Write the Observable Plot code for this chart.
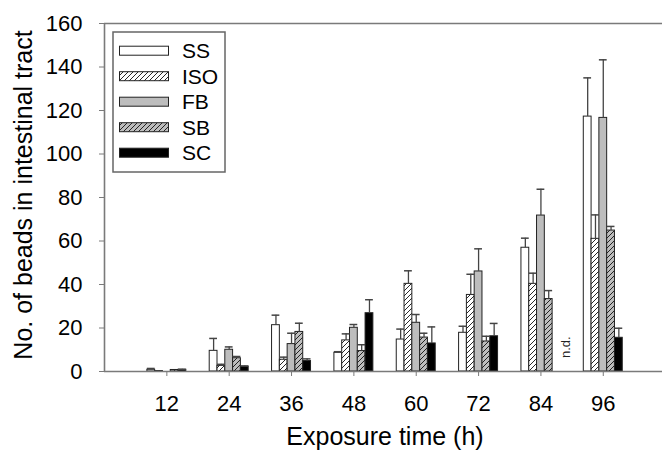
<!DOCTYPE html>
<html>
<head>
<meta charset="utf-8">
<script src="https://cdn.jsdelivr.net/npm/d3@7"></script>
<script src="https://cdn.jsdelivr.net/npm/@observablehq/plot@0.6"></script>
<style>
  html, body { margin: 0; padding: 0; background: #fff; }
  #chart { width: 663px; height: 451px; }
</style>
</head>
<body>
<div id="chart"></div>
<script>
// ---- data ----
const times = [12, 24, 36, 48, 60, 72, 84, 96];
const seriesNames = ["SS", "ISO", "FB", "SB", "SC"];
const SS    = [0.8, 9.5, 21.3, 8.6, 14.7, 17.8, 56.9, 117.2];
const SSerr = [0.6, 5.7, 4.6, 0.5, 4.8, 3.0, 4.4, 17.8];
const ISO    = [0.2, 2.6, 5.4, 14.3, 40.3, 35.2, 40.3, 61.0];
const ISOerr = [0, 0.7, 1.2, 3.0, 6.0, 9.5, 4.9, 11.0];
const FB    = [0, 10.0, 12.6, 20.1, 22.4, 46.0, 71.7, 116.6];
const FBerr = [0, 1.3, 5.0, 1.5, 3.8, 10.4, 12.1, 26.7];
const SB    = [0.7, 6.1, 18.2, 9.4, 15.6, 13.8, 33.3, 64.8];
const SBerr = [0, 0.8, 4.0, 2.9, 2.0, 2.4, 3.9, 1.9];
const SC    = [0.8, 2.3, 4.8, 26.8, 12.9, 16.2, null, 15.5];
const SCerr = [0.2, 0.2, 1.0, 6.2, 7.6, 5.9, null, 4.4];
const yTicks = [0, 20, 40, 60, 80, 100, 120, 140, 160];
const notDetermined = [{time: 84, series: "SC", label: "n.d."}];

const means = {SS, ISO, FB, SB, SC};
const errs = {SS: SSerr, ISO: ISOerr, FB: FBerr, SB: SBerr, SC: SCerr};
const fills = {
  SS: "white",
  ISO: "url(#hatchWhite)",
  FB: "#bdbdbd",
  SB: "url(#hatchGray)",
  SC: "black"
};

const barW = 1.5; // in hours
const slot = (s) => seriesNames.indexOf(s);
const x1Of = (t, s) => t + (slot(s) - 2.5) * barW;

const rows = [];
seriesNames.forEach(s => {
  times.forEach((t, i) => {
    const v = means[s][i];
    if (v == null) return;
    rows.push({series: s, time: t, value: v, err: errs[s][i]});
  });
});

const axisGray = "#7a7a7a";
const font = "'Liberation Sans', Arial, sans-serif";

const plot = Plot.plot({
  width: 663,
  height: 451,
  marginLeft: 104,
  marginRight: 1,
  marginTop: 23,
  marginBottom: 80,
  style: {fontFamily: font, background: "white", overflow: "visible"},
  x: {domain: [0, 107.4]},
  y: {domain: [0, 160]},
  marks: [
    ...seriesNames.map(s => Plot.rectY(rows.filter(d => d.series === s), {
      x1: d => x1Of(d.time, d.series),
      x2: d => x1Of(d.time, d.series) + barW,
      y1: 0,
      y2: "value",
      fill: fills[s],
      stroke: "#222",
      strokeWidth: 1
    })),
    Plot.ruleX(rows.filter(d => d.err > 0), {
      x: d => x1Of(d.time, d.series) + barW / 2,
      y1: "value",
      y2: d => d.value + d.err,
      stroke: "#444",
      strokeWidth: 1.3
    }),
    Plot.ruleY(rows.filter(d => d.err > 0), {
      x1: d => x1Of(d.time, d.series),
      x2: d => x1Of(d.time, d.series) + barW,
      y: d => d.value + d.err,
      stroke: "#444",
      strokeWidth: 1.5
    }),
    Plot.ruleY([0, 160], {stroke: axisGray, strokeWidth: 1.6}),
    Plot.ruleX([0], {stroke: axisGray, strokeWidth: 1.6}),
    Plot.axisY({ticks: yTicks, tickSize: 5, tickPadding: 17, fontSize: 22, stroke: axisGray, fill: "black", label: null}),
    Plot.axisX({ticks: times, tickSize: 5, tickPadding: 19, fontSize: 22, stroke: axisGray, fill: "black", label: null})
  ]
});

document.getElementById("chart").appendChild(plot);

const svg = d3.select(plot);
const xs = plot.scale("x"), ys = plot.scale("y");
const defs = svg.insert("defs", ":first-child");
function hatch(id, bg) {
  const p = defs.append("pattern")
    .attr("id", id).attr("patternUnits", "userSpaceOnUse")
    .attr("width", 5).attr("height", 5);
  p.append("rect").attr("width", 5).attr("height", 5).attr("fill", bg);
  p.append("path").attr("d", "M-1,1 l2,-2 M0,5 l5,-5 M4,6 l2,-2")
    .attr("stroke", "#111").attr("stroke-width", 0.9);
}
hatch("hatchWhite", "white");
hatch("hatchGray", "#bdbdbd");

// n.d. labels (rotated), positioned through the plot's scales
notDetermined.forEach(d => {
  const px = xs.apply(x1Of(d.time, d.series) + barW / 2) + 14;
  const py = ys.apply(0) - 13;
  svg.append("text")
    .attr("transform", `translate(${px},${py}) rotate(-90)`)
    .attr("text-anchor", "start")
    .attr("font-size", 13).attr("font-family", font).attr("fill", "#222")
    .text(d.label);
});

// axis titles
svg.append("text")
  .attr("x", 385).attr("y", 445)
  .attr("text-anchor", "middle")
  .attr("font-size", 25).attr("font-family", font).attr("fill", "black")
  .text("Exposure time (h)");
svg.append("text")
  .attr("transform", "translate(32,195) rotate(-90)")
  .attr("text-anchor", "middle")
  .attr("font-size", 25).attr("font-family", font).attr("fill", "black")
  .text("No. of beads in intestinal tract");

// legend
const lg = svg.append("g");
lg.append("rect").attr("x", 113).attr("y", 32).attr("width", 112).attr("height", 140)
  .attr("fill", "white").attr("stroke", "#666").attr("stroke-width", 1.5);
seriesNames.forEach((s, i) => {
  const cy = 50.7 + i * 25.5;
  lg.append("rect").attr("x", 119.5).attr("y", cy - 4.5).attr("width", 49).attr("height", 9)
    .attr("fill", fills[s]).attr("stroke", "#222").attr("stroke-width", 1);
  lg.append("text").attr("x", 182).attr("y", cy).attr("dy", "0.36em")
    .attr("text-anchor", "start")
    .attr("font-size", 21).attr("font-family", font).attr("fill", "black")
    .text(s);
});
</script>
</body>
</html>
